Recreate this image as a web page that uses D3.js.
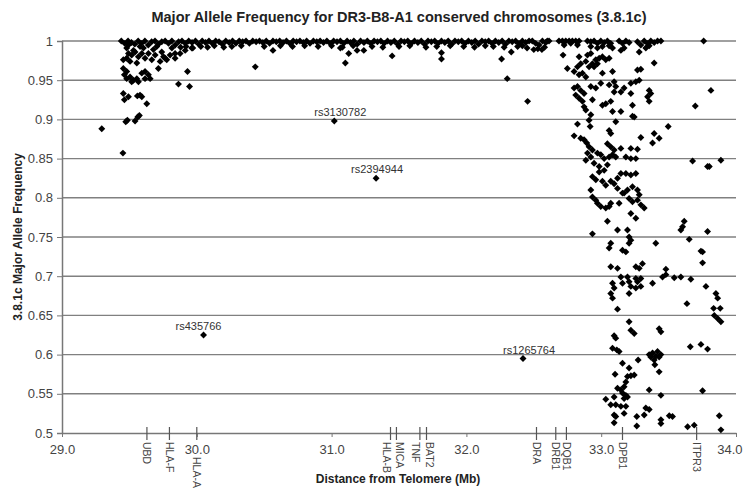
<!DOCTYPE html>
<html lang="en">
<head>
  <meta charset="UTF-8">
  <title>Major Allele Frequency 3.8.1c</title>
  <script src="https://d3js.org/d3.v7.min.js"></script>
  <style>
  body { margin: 0; background: #fff; }
  text { font-family: "Liberation Sans", Arial, Helvetica, sans-serif; }
  </style>
</head>
<body>
<div id="chart"></div>
<script>

// ---- data (Mb position, major allele frequency) ----
const yTicks = [0.5, 0.55, 0.6, 0.65, 0.7, 0.75, 0.8, 0.85, 0.9, 0.95, 1];
const yTickLabels = ["0.5", "0.55", "0.6", "0.65", "0.7", "0.75", "0.8", "0.85", "0.9", "0.95", "1"];
const xTicks = [29, 30, 31, 32, 33, 34];
const xTickLabels = ["29.0", "30.0", "31.0", "32.0", "33.0", "34.0"];

const genes = ["UBD", "HLA-F", "HLA-A", "HLA-B", "MICA", "TNF", "BAT2", "DRA", "DRB1", "DQB1", "DPB1", "ITPR3"];
const genePos = [29.63, 29.797, 30.0, 31.437, 31.481, 31.655, 31.704, 32.52, 32.663, 32.742, 33.158, 33.708];

const snpNames = ["rs3130782", "rs2394944", "rs435766", "rs1265764"];
const snpPos = [31.02, 31.33, 30.05, 32.42];
const snpFreq = [0.898, 0.825, 0.625, 0.595];

// dense band of near-fixed SNPs
const bandPoints = [
[29.44,1],[29.465,0.997],[29.49,1],[29.515,0.998],[29.54,0.996],[29.565,1],[29.59,0.997],[29.615,1],[29.64,0.995],[29.665,0.999],
[29.69,1],[29.715,0.996],[29.74,0.999],[29.765,1],[29.79,0.997],[29.815,1],[29.84,0.995],[29.865,0.999],[29.89,1],[29.915,0.997],
[29.94,1],[29.965,0.998],[29.99,1],[30.015,0.996],[30.04,1],[30.065,0.998],[30.09,1],[30.115,0.997],[30.14,1],[30.165,0.999],
[30.19,0.996],[30.215,1],[30.24,0.998],[30.265,1],[30.29,0.997],[30.315,1],[30.34,0.999],[30.365,1],[30.39,0.997],[30.415,1],
[30.44,0.999],[30.465,1],[30.49,0.998],[30.515,1],[30.54,0.997],[30.565,1],[30.59,0.999],[30.615,1],[30.64,0.998],[30.665,1],
[30.69,0.997],[30.715,1],[30.74,0.999],[30.765,1],[30.79,0.998],[30.815,1],[30.84,0.997],[30.865,1],[30.89,0.999],[30.915,1],
[30.94,0.998],[30.965,1],[30.99,0.997],[31.015,1],[31.04,0.999],[31.065,1],[31.09,0.997],[31.115,1],[31.14,0.998],[31.165,1],
[31.19,0.996],[31.215,1],[31.24,0.998],[31.265,1],[31.29,0.997],[31.315,1],[31.34,0.999],[31.365,1],[31.39,0.997],[31.415,1],
[31.44,0.998],[31.465,1],[31.49,0.996],[31.515,1],[31.54,0.999],[31.565,1],[31.59,0.997],[31.615,1],[31.64,0.998],[31.665,1],
[31.69,0.996],[31.715,1],[31.74,0.999],[31.765,1],[31.79,0.997],[31.815,1],[31.84,0.998],[31.865,1],[31.89,0.996],[31.915,1],
[31.94,0.999],[31.965,1],[31.99,0.997],[32.015,1],[32.04,0.998],[32.065,1],[32.09,0.996],[32.115,1],[32.14,0.999],[32.165,1],
[32.19,0.997],[32.215,1],[32.24,0.998],[32.265,1],[32.29,0.996],[32.315,1],[32.34,0.999],[32.365,1],[32.39,0.997],[32.415,1],
[32.44,0.998],[32.465,1]
];

const bandLower = [
[29.88,0.992],[29.92,0.993],[29.97,0.991],[30.03,0.993],[30.08,0.992],[30.13,0.994],[30.2,0.992],[30.26,0.993],[30.33,0.994],
[30.5,0.993],[30.62,0.994],[30.71,0.993],[30.8,0.994],[30.9,0.993],[31.0,0.994],[31.08,0.992],[31.16,0.994],[31.3,0.993],
[31.38,0.992],[31.5,0.993],[31.58,0.994],[31.7,0.992],[31.78,0.993],[31.88,0.994],[31.98,0.993],[32.06,0.992],[32.14,0.994],
[32.2,0.993],[32.28,0.992],[32.38,0.993],[32.45,0.991],[32.5,0.989],[32.53,0.99],[32.56,0.989],[32.58,0.992]
];

// telomeric cluster (UBD / HLA-F / HLA-A)
const leftCluster = [
[29.295,0.888],[29.452,0.857],
[29.473,0.897],[29.485,0.899],[29.542,0.898],[29.562,0.903],[29.574,0.905],
[29.455,0.933],[29.463,0.925],[29.493,0.929],[29.559,0.930],[29.579,0.931],[29.592,0.929],[29.629,0.920],
[29.455,0.965],[29.463,0.957],[29.480,0.952],[29.505,0.954],[29.530,0.950],[29.555,0.952],[29.592,0.959],
[29.616,0.961],[29.641,0.957],[29.654,0.952],[29.715,0.965],[29.864,0.945],[29.931,0.961],[29.946,0.942],
[29.480,0.961],[29.567,0.948],[29.517,0.948],[29.616,0.952],
[29.480,0.991],[29.493,0.984],[29.455,0.976],[29.480,0.978],[29.517,0.982],[29.542,0.986],[29.567,0.980],
[29.592,0.984],[29.616,0.978],[29.641,0.984],[29.666,0.976],[29.691,0.982],[29.728,0.974],[29.753,0.980],
[29.777,0.976],[29.802,0.982],[29.839,0.978],[29.876,0.984],[29.505,0.974],[29.555,0.972],[29.530,0.988],
[29.740,0.986],[29.815,0.991],[29.765,0.978],[29.839,0.984],[29.914,0.988],[29.963,0.991],[29.604,0.991],
[29.678,0.989],[29.703,0.993],[29.579,0.993],[29.493,0.995]
];

// scattered SNPs across HLA class I / III
const midScatter = [
[30.434,0.967],[30.565,0.988],[31.102,0.972],[31.127,0.984],[31.189,0.988],[31.239,0.988],[31.065,0.991],
[31.449,0.981],[31.815,0.985],[31.815,0.977],[32.261,0.977],[32.333,0.986],[32.303,0.952],[32.454,0.923],
[32.415,0.994],[32.60,1]
];

// class II region, upper part
const rightUpper = [
[32.489,1],[32.514,0.997],[32.539,0.995],[32.564,1],[32.588,0.998],[32.613,1],
[32.687,1],[32.712,1],[32.737,1],[32.762,1],[32.786,1],[32.811,1],[32.836,1],[32.725,0.995],[32.774,0.997],[32.824,0.995],
[32.898,1],[32.923,0.999],[32.947,1],[32.972,0.997],[32.997,1],[33.022,0.998],[33.046,1],[33.071,0.997],
[32.923,0.993],[32.972,0.991],[33.009,0.993],[33.059,0.994],[33.084,0.991],
[33.133,1],[33.158,0.997],[33.183,1],[33.207,0.998],[33.170,0.991],[33.146,0.988],
[33.269,0.999],[33.294,0.995],[33.319,1],[33.344,0.997],[33.368,1],[33.393,0.998],[33.418,1],[33.443,1],
[33.282,0.986],[33.331,0.991],[33.356,0.994],[33.760,1],
[32.717,0.982],[32.836,0.980],[32.749,0.965],[32.799,0.961],[32.824,0.967],[32.848,0.971],[32.886,0.974],
[32.910,0.967],[32.935,0.971],[32.960,0.976],[32.985,0.978],[33.009,0.980],[33.034,0.976],[33.059,0.978],
[32.972,0.971],[32.947,0.967],[32.898,0.982],[32.923,0.984],[32.861,0.959],[32.886,0.954],[32.836,0.957],
[33.009,0.959],[33.084,0.961],[33.393,0.972],[33.269,0.963],[33.294,0.964],[33.096,0.948],[33.108,0.942],
[33.059,0.944],[32.997,0.946],[32.923,0.942],[32.960,0.940],[32.824,0.942],[32.848,0.937],[32.873,0.933],
[32.799,0.940],[32.811,0.931],[32.836,0.927],[32.861,0.923],[32.873,0.916],[32.886,0.912],[32.935,0.925],
[33.009,0.918],[33.034,0.920],[33.071,0.923],[33.096,0.935],[33.146,0.935],[33.170,0.940],[33.220,0.933],
[33.220,0.946],[33.257,0.948],[33.282,0.950],[33.356,0.937],[33.368,0.933],[33.344,0.929],[33.356,0.923],
[33.232,0.918],[33.084,0.910],[33.146,0.910],[33.232,0.904],[33.245,0.903],[33.814,0.937],[33.698,0.917],
[32.923,0.906],[32.910,0.899],[32.918,0.891],[33.108,0.897],[32.824,0.894],[33.497,0.891],
[32.799,0.879],[32.848,0.876],[32.873,0.874],[32.893,0.870],[33.059,0.886],[33.071,0.882],[33.294,0.877],
[33.381,0.870],[33.393,0.882],[33.430,0.876],[32.910,0.865],[32.935,0.861],[32.898,0.857],[32.923,0.852],
[32.886,0.848],[33.046,0.869],[33.071,0.865],[33.096,0.861],[32.972,0.857],[32.997,0.855],[33.022,0.850],
[33.059,0.852],[33.084,0.855],[33.108,0.852],[33.146,0.863],[33.220,0.863],[33.269,0.862],[33.183,0.852],
[33.220,0.850],[33.257,0.850],[32.947,0.844],[32.985,0.840],[33.022,0.835],[33.046,0.842],
[32.935,0.827],[32.960,0.823],[32.985,0.833],[33.009,0.821],[33.034,0.816],[33.071,0.821],[33.096,0.818],
[33.121,0.825],[33.146,0.831],[33.183,0.831],[33.220,0.829],[33.257,0.831],
[33.121,0.812],[33.158,0.806],[33.195,0.810],[33.232,0.814],[33.269,0.810],[33.282,0.804],[32.923,0.810],
[32.935,0.801],[32.960,0.797],[32.972,0.793],[32.997,0.789],[33.034,0.787],[33.059,0.789],[33.071,0.793],
[33.133,0.793],[33.170,0.806],[33.207,0.799],[33.232,0.795],[33.269,0.797],[33.294,0.791],[33.319,0.787],
[33.220,0.780],[33.257,0.774],[33.046,0.770],[33.121,0.759],[33.195,0.759],[33.207,0.750],[33.220,0.746],
[32.935,0.754],[33.071,0.742],[33.059,0.736],[33.158,0.733],[33.183,0.731],[33.207,0.742],[33.405,0.742],
[33.616,0.770],[33.604,0.763],[33.591,0.759],[33.653,0.747],[33.789,0.757],[33.740,0.732],
[33.678,0.847],[33.789,0.840],[33.802,0.840],[33.888,0.848]
];

// class II region, lower part
const rightLower = [
[33.071,0.712],[33.121,0.710],[33.257,0.712],[33.282,0.710],[33.306,0.716],[33.480,0.709],[33.455,0.699],
[33.480,0.702],[33.542,0.698],[33.591,0.699],[33.665,0.696],[33.146,0.699],[33.158,0.691],[33.195,0.699],
[33.207,0.693],[33.220,0.687],[33.207,0.678],[33.257,0.697],[33.269,0.693],[33.257,0.685],[33.294,0.697],
[33.294,0.687],[33.381,0.691],[33.084,0.691],[33.096,0.685],[33.071,0.678],[33.084,0.672],[33.121,0.658],
[33.752,0.731],[33.752,0.717],[33.777,0.687],[33.851,0.678],[33.864,0.672],[33.834,0.659],[33.883,0.659],
[33.839,0.650],[33.864,0.646],[33.888,0.642],[33.636,0.665],[33.207,0.642],[33.220,0.631],[33.245,0.627],
[33.430,0.633],[33.443,0.629],[33.096,0.624],[33.108,0.621],[33.084,0.608],[33.116,0.606],[33.133,0.604],
[33.661,0.610],[33.740,0.613],[33.789,0.607],[33.274,0.593],[33.356,0.600],[33.381,0.602],[33.405,0.598],
[33.430,0.597],[33.393,0.593],[33.418,0.604],[33.398,0.587],[33.368,0.597],[33.443,0.600],[33.158,0.589],
[33.207,0.583],[33.103,0.575],[33.195,0.572],[33.220,0.573],[33.245,0.574],[33.430,0.578],[33.183,0.565],
[33.170,0.559],[33.146,0.555],[33.121,0.557],[33.158,0.551],[33.183,0.548],[33.195,0.546],[33.170,0.544],
[33.146,0.534],[33.183,0.534],[33.096,0.546],[33.034,0.543],[33.071,0.536],[33.108,0.536],[33.356,0.555],
[33.443,0.548],[33.752,0.554],[33.096,0.523],[33.108,0.521],[33.096,0.513],[33.170,0.525],[33.331,0.532],
[33.356,0.530],[33.319,0.523],[33.264,0.521],[33.264,0.509],[33.443,0.517],[33.443,0.512],[33.505,0.522],
[33.529,0.521],[33.641,0.508],[33.690,0.510],[33.876,0.522],[33.888,0.504]
];

// ---- layout ----
const W = 744, H = 491;
const margin = {left: 62, right: 736, top: 41, bottom: 433};

const svg = d3.select("#chart").append("svg")
  .attr("width", W)
  .attr("height", H);

const x = d3.scaleLinear().domain([29, 34]).range([margin.left, margin.right]);
const y = d3.scaleLinear().domain([0.5, 1]).range([margin.bottom, margin.top]);

// gridlines
svg.append("g")
  .selectAll("line")
  .data(yTicks.slice(1))
  .enter().append("line")
    .attr("x1", margin.left)
    .attr("x2", margin.right)
    .attr("y1", d => y(d))
    .attr("y2", d => y(d))
    .attr("stroke", "#808080")
    .attr("stroke-width", 1.4);

// y axis
const yAxis = d3.axisLeft(y)
  .tickValues(yTicks)
  .tickFormat((d, i) => yTickLabels[i])
  .tickSize(5)
  .tickPadding(4);

const yAxisGroup = svg.append("g")
  .attr("transform", `translate(${margin.left},0)`)
  .call(yAxis);
yAxisGroup.select(".domain").attr("stroke", "#777").attr("stroke-width", 1.5);
yAxisGroup.selectAll(".tick line").attr("stroke", "#777");
yAxisGroup.selectAll("text")
  .attr("font-size", 13)
  .attr("fill", "#444")
  .style("font-family", "'Liberation Sans', Arial, sans-serif");

// x axis
const xAxis = d3.axisBottom(x)
  .tickValues(xTicks)
  .tickFormat((d, i) => xTickLabels[i])
  .tickSize(4)
  .tickPadding(8)
  .tickSizeOuter(0);

const xAxisGroup = svg.append("g")
  .attr("transform", `translate(0,${margin.bottom})`)
  .call(xAxis);
xAxisGroup.select(".domain").attr("stroke", "#777").attr("stroke-width", 1.5);
xAxisGroup.selectAll(".tick line").attr("stroke", "#777");
xAxisGroup.selectAll("text")
  .attr("font-size", 13)
  .attr("fill", "#444")
  .style("font-family", "'Liberation Sans', Arial, sans-serif");
// keep the last label inside the frame
xAxisGroup.selectAll(".tick:last-of-type text")
  .attr("text-anchor", "end")
  .attr("x", 6);

// gene markers on the x axis
const geneG = svg.append("g");
geneG.selectAll("line")
  .data(genePos)
  .enter().append("line")
    .attr("x1", d => x(d))
    .attr("x2", d => x(d))
    .attr("y1", margin.bottom - 6)
    .attr("y2", margin.bottom + 7)
    .attr("stroke", "#555")
    .attr("stroke-width", 1.2);

// crowded labels are nudged apart
const geneNudge = {"HLA-B": -4, "MICA": 3.5, "TNF": -4, "BAT2": 3.5};

geneG.selectAll("text")
  .data(genes)
  .enter().append("text")
    .attr("transform", (d, i) => {
      const gy = d === "HLA-A" ? margin.bottom + 24 : margin.bottom + 9;
      const gx = x(genePos[i]) + (geneNudge[d] || 0);
      return `translate(${gx},${gy}) rotate(90)`;
    })
    .attr("dy", "0.35em")
    .attr("font-size", 10.5)
    .attr("fill", "#444")
    .text(d => d);

// points
const allPoints = [].concat(bandPoints, bandLower, leftCluster, midScatter, rightUpper, rightLower,
  snpPos.map((p, i) => [p, snpFreq[i]]));

const diamond = d3.symbol().type(d3.symbolSquare).size(24);

svg.append("g")
  .selectAll("path")
  .data(allPoints)
  .enter().append("path")
    .attr("d", diamond)
    .attr("transform", d => `translate(${x(d[0])},${y(d[1])}) rotate(45)`)
    .attr("fill", "#000");

// SNP labels
const labelDx = [6, 1, -5, 6];
svg.append("g")
  .selectAll("text")
  .data(snpNames)
  .enter().append("text")
    .attr("x", (d, i) => x(snpPos[i]) + labelDx[i])
    .attr("y", (d, i) => y(snpFreq[i]) - 5)
    .attr("text-anchor", "middle")
    .attr("font-size", 11)
    .attr("fill", "#333")
    .text(d => d);

// titles
svg.append("text")
  .attr("x", 399)
  .attr("y", 22)
  .attr("text-anchor", "middle")
  .attr("font-size", 14.5)
  .attr("font-weight", "bold")
  .attr("fill", "#222")
  .text("Major Allele Frequency for DR3-B8-A1 conserved chromosomes (3.8.1c)");

svg.append("text")
  .attr("x", 398)
  .attr("y", 483)
  .attr("text-anchor", "middle")
  .attr("font-size", 12)
  .attr("font-weight", "bold")
  .attr("fill", "#222")
  .text("Distance from Telomere (Mb)");

svg.append("text")
  .attr("transform", `translate(22,${(margin.top + margin.bottom) / 2}) rotate(-90)`)
  .attr("text-anchor", "middle")
  .attr("font-size", 12)
  .attr("font-weight", "bold")
  .attr("fill", "#222")
  .text("3.8.1c Major Allele Frequency");

</script>
</body>
</html>
